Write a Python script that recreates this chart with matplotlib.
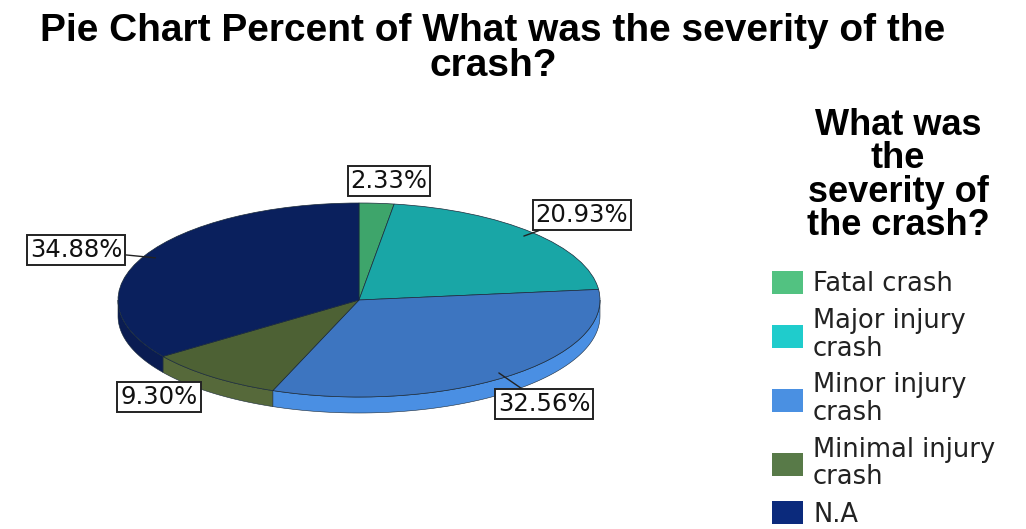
import numpy as np
import matplotlib
matplotlib.use("Agg")
import matplotlib.pyplot as plt
from matplotlib.patches import Patch, Polygon

# ---- data ----
categories = ["Fatal crash", "Major injury\ncrash", "Minor injury\ncrash",
              "Minimal injury\ncrash", "N.A"]
percents = [2.33, 20.93, 32.56, 9.30, 34.88]
pct_labels = ["2.33%", "20.93%", "32.56%", "9.30%", "34.88%"]

title = "Pie Chart Percent of What was the severity of the\ncrash?"
legend_title = "What was\nthe\nseverity of\nthe crash?"

# ---- style ----
top_colors = ["#3ea56b", "#19a6a6", "#3d75c0", "#4d6134", "#0a205d"]
rim_colors = ["#3a9a62", "#179a9a", "#4a8fe3", "#56693a", "#0a1c52"]
legend_colors = ["#52c281", "#1fcccc", "#4a90e2", "#587a48", "#0b2a7c"]
# label box centres in image pixels (x, y from top) and whether a leader line shows
label_pos = [(389, 181), (582, 215), (544, 404), (159, 397), (76, 250)]
leader = [False, True, True, False, True]

W, H = 1026, 529
fig = plt.figure(figsize=(W / 100, H / 100), dpi=100)
fig.patch.set_facecolor("white")

# pie axes : top face spans x 118..600, y 203..397 px, rim depth ~16 px
depth = 16 / 97.0
x0, x1 = 118, 600
ytop, ybot = 203, 397 + 16
ax = fig.add_axes([x0 / W, 1 - ybot / H, (x1 - x0) / W, (ybot - ytop) / H])
wedges, _ = ax.pie(percents, startangle=90, counterclock=False, colors=top_colors,
                   radius=1, wedgeprops=dict(edgecolor="#1a2a3a", linewidth=0.5))
for w in wedges:
    w.set_zorder(3)
ax.set_aspect("auto")
ax.set_xlim(-1, 1)
ax.set_ylim(-1 - depth, 1)
ax.axis("off")

# rim (visible lower half of the side)
for w, c in zip(wedges, rim_colors):
    t1, t2 = w.theta1, w.theta2
    for lo, hi in [(-540, -360), (-180, 0), (180, 360)]:
        a, b = max(t1, lo), min(t2, hi)
        if b > a:
            t = np.radians(np.linspace(a, b, 80))
            top = np.column_stack([np.cos(t), np.sin(t)])
            bot = np.column_stack([np.cos(t[::-1]), np.sin(t[::-1]) - depth])
            ax.add_patch(Polygon(np.vstack([top, bot]), closed=True, facecolor=c,
                                 edgecolor="#1a2a3a", linewidth=0.4, zorder=2,
                                 clip_on=False))

# percentage labels
cum = np.cumsum([0] + percents[:-1])
for i, (lab, (px, py)) in enumerate(zip(pct_labels, label_pos)):
    mid = 90 - 3.6 * (cum[i] + percents[i] / 2)
    xy = (0.95 * np.cos(np.radians(mid)), 0.95 * np.sin(np.radians(mid)))
    ax.annotate(lab, xy=xy, xycoords="data", xytext=(px, H - py),
                textcoords="figure pixels", ha="center", va="center",
                fontsize=17.5, family="DejaVu Sans", color="#111111", zorder=5,
                bbox=dict(boxstyle="square,pad=0.12", fc="white", ec="#222222", lw=1.4),
                arrowprops=(dict(arrowstyle="-", color="#222222", lw=1.0,
                                 shrinkA=0, shrinkB=0) if leader[i] else None),
                annotation_clip=False)

# title
fig.text(493 / W, 1 - 13 / H, title, ha="center", va="top", fontsize=28,
         fontweight="bold", family="Liberation Sans", linespacing=0.98)

# legend heading
fig.text(898 / W, 1 - 108 / H, legend_title, ha="center", va="top", fontsize=26,
         fontweight="bold", family="Liberation Sans", linespacing=0.94,
         multialignment="center")

# legend entries
handles = [Patch(facecolor=c, edgecolor="none") for c in legend_colors]
leg = fig.legend(handles, categories, loc="upper left",
                 bbox_to_anchor=(772 / W, 1 - 271 / H), frameon=False,
                 prop=dict(family="DejaVu Sans", size=18.5),
                 handlelength=1.2, handleheight=1.0, handletextpad=0.4,
                 labelspacing=0.42, borderpad=0, borderaxespad=0)
for t in leg.get_texts():
    t.set_linespacing(1.08)
    t.set_color("#222222")

fig.savefig("out.png", dpi=100, facecolor="white")
